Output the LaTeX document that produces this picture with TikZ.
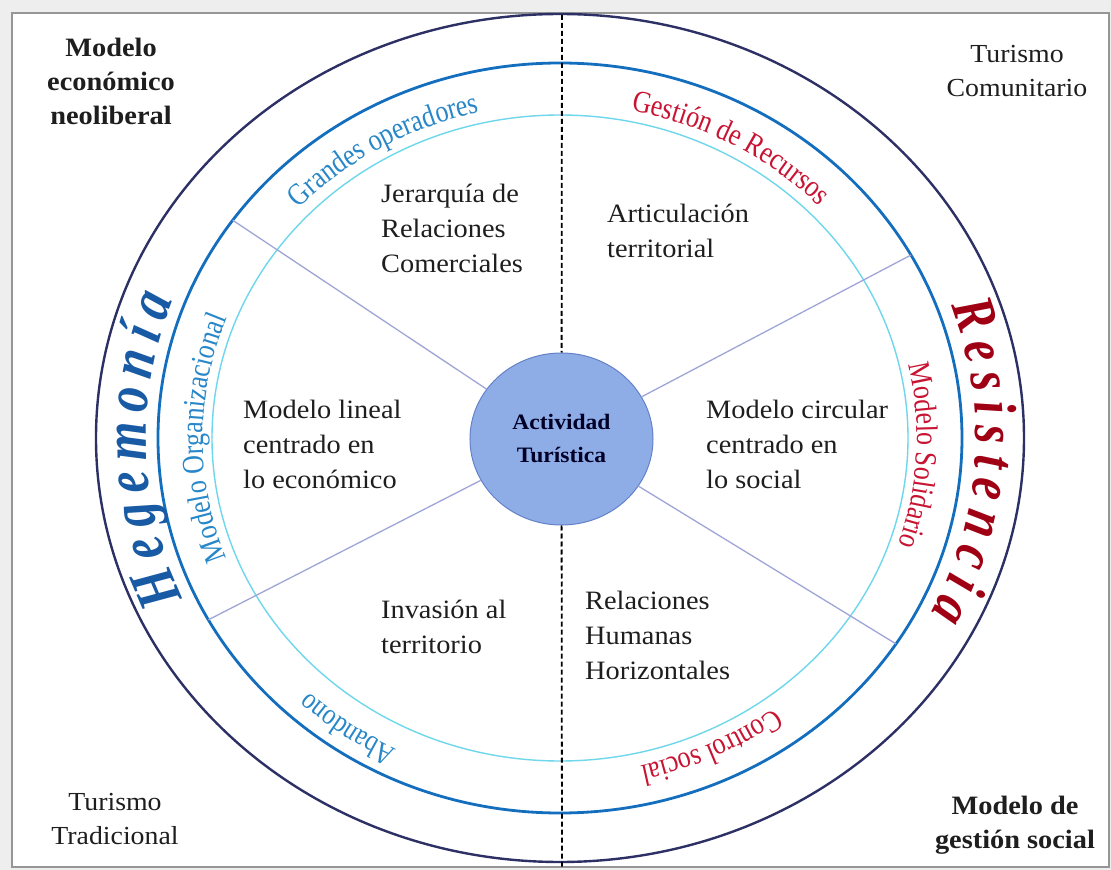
\documentclass[tikz,border=0pt]{standalone}
\usepackage{fontspec}
\setmainfont{Liberation Serif}[FakeStretch=1.07]
\newfontfamily\condfont{Liberation Serif}[FakeStretch=0.84]
\newfontfamily\bigcond{Liberation Serif}[FakeStretch=0.8]
\usetikzlibrary{decorations.text,shapes.geometric}
\definecolor{bgc}{RGB}{238,238,238}
\definecolor{framec}{RGB}{150,150,150}
\definecolor{navy}{RGB}{45,48,100}
\definecolor{midblue}{RGB}{20,110,190}
\definecolor{cyanc}{RGB}{110,215,235}
\definecolor{actfill}{RGB}{142,172,230}
\definecolor{actdraw}{RGB}{100,130,200}
\definecolor{spokec}{RGB}{160,165,215}
\definecolor{txtblue}{RGB}{40,135,200}
\definecolor{hegblue}{RGB}{25,90,165}
\definecolor{txtred}{RGB}{200,20,50}
\definecolor{resred}{RGB}{160,0,20}
\definecolor{txt}{RGB}{30,30,30}
\begin{document}
\begin{tikzpicture}[x=1pt,y=1pt,
  body/.style={align=left, text=txt, font=\fontsize{26.5}{35}\selectfont, inner sep=0pt},
  corner/.style={align=center, text=txt, font=\fontsize{26}{34}\selectfont, inner sep=0pt},
  cornerbold/.style={corner, font=\bfseries\fontsize{26.5}{34}\selectfont},
  spoke/.style={draw=spokec, line width=1.3pt},
  divider/.style={draw=black, line width=1.8pt, dash pattern=on 5pt off 3pt},
]
\fill[bgc] (-560,-432) rectangle (551,438);
\useasboundingbox (-560,-432) rectangle (551,438);
\draw[framec, fill=white, line width=1.5pt] (-548,-429) rectangle (549,425);

% rings
\draw[navy, line width=2.4pt] (0,0) ellipse [x radius=464, y radius=424];
\draw[midblue, line width=2.8pt] (0,0) ellipse [x radius=402, y radius=375];
\draw[cyanc, line width=1.4pt] (0,0) ellipse [x radius=348, y radius=323];

% centre
\node[ellipse, fill=actfill, draw=actdraw, line width=1pt, minimum width=183, minimum height=172,
  align=center, text=black!85!blue, font=\bfseries\fontsize{22}{33}\selectfont, inner sep=0pt]
  (act) at (1.5,-1) {Actividad\\Turística};

% divider
\coordinate (dtop) at (2,423);
\coordinate (dbot) at (2,-429);
\draw[divider] (dtop) -- (act);
\draw[divider] (act) -- (dbot);

% spokes
\coordinate (s1) at (144.5:402 and 375);
\coordinate (s2) at (29.2:402 and 375);
\coordinate (s3) at (209:402 and 375);
\coordinate (s4) at (-33.3:402 and 375);
\draw[spoke] (act) -- (s1);
\draw[spoke] (act) -- (s2);
\draw[spoke] (act) -- (s3);
\draw[spoke] (act) -- (s4);

% sector texts
\node[body, anchor=west] (t1) at (-179,210) {Jerarquía de\\Relaciones\\Comerciales};
\node[body, anchor=west] (t2) at (47,207.5) {Articulación\\territorial};
\node[body, anchor=west] (t3) at (-317,-6) {Modelo lineal\\centrado en\\lo económico};
\node[body, anchor=west] (t4) at (146,-6) {Modelo circular\\centrado en\\lo social};
\node[body, anchor=west] (t5) at (-179,-188.5) {Invasión al\\territorio};
\node[body, anchor=west] (t6) at (25,-197) {Relaciones\\Humanas\\Horizontales};

% corner texts
\node[cornerbold] (c1) at (-449,357) {Modelo\\económico\\neoliberal};
\node[corner] (c2) at (457,366.5) {Turismo\\Comunitario};
\node[corner] (c3) at (-445,-381.5) {Turismo\\Tradicional};
\node[cornerbold] (c4) at (455,-387) {Modelo de\\gestión social};

% curved labels, inner band
\path[decorate, decoration={text along path, text align=center, text color=txtblue,
  text={|\condfont\fontsize{31}{31}\selectfont|Grandes operadores}}]
  (150:360 and 334) arc[start angle=150, end angle=90, x radius=360, y radius=334];
\path[decorate, decoration={text along path, text align=center, text color=txtred,
  text={|\condfont\fontsize{31}{31}\selectfont|Gestión de Recursos}}]
  (91:360 and 334) arc[start angle=91, end angle=31, x radius=360, y radius=334];
\path[decorate, decoration={text along path, text align=center, text color=txtblue,
  text={|\condfont\fontsize{31}{31}\selectfont|Modelo Organizacional}}]
  (215:357 and 334) arc[start angle=215, end angle=145, x radius=357, y radius=334];
\path[decorate, decoration={text along path, text align=center, text color=txtred,
  text={|\condfont\fontsize{31}{31}\selectfont|Modelo Solidario}}]
  (30:357 and 334) arc[start angle=30, end angle=-36, x radius=357, y radius=334];
\path[decorate, decoration={text along path, text align=center, text color=txtblue,
  text={|\condfont\fontsize{30}{30}\selectfont|Abandono}}]
  (265:368 and 347) arc[start angle=265, end angle=205, x radius=368, y radius=347];
\path[decorate, decoration={text along path, text align=center, text color=txtred,
  text={|\condfont\fontsize{31}{31}\selectfont|Control social}}]
  (325:360 and 336) arc[start angle=325, end angle=265, x radius=360, y radius=336];

% curved labels, outer band
\path[decorate, decoration={text along path, text align=fit to path, text color=hegblue,
  text={|\bigcond\fontsize{62}{62}\selectfont\bfseries\itshape|Hegemonía}}]
  (204.5:414 and 386) arc[start angle=204.5, end angle=159, x radius=414, y radius=386];
\path[decorate, decoration={text along path, text align=fit to path, text color=resred,
  text={|\bigcond\fontsize{60}{60}\selectfont\bfseries\itshape|Resistencia}}]
  (20:416 and 388) arc[start angle=20, end angle=-27, x radius=416, y radius=388];
\end{tikzpicture}
\end{document}
